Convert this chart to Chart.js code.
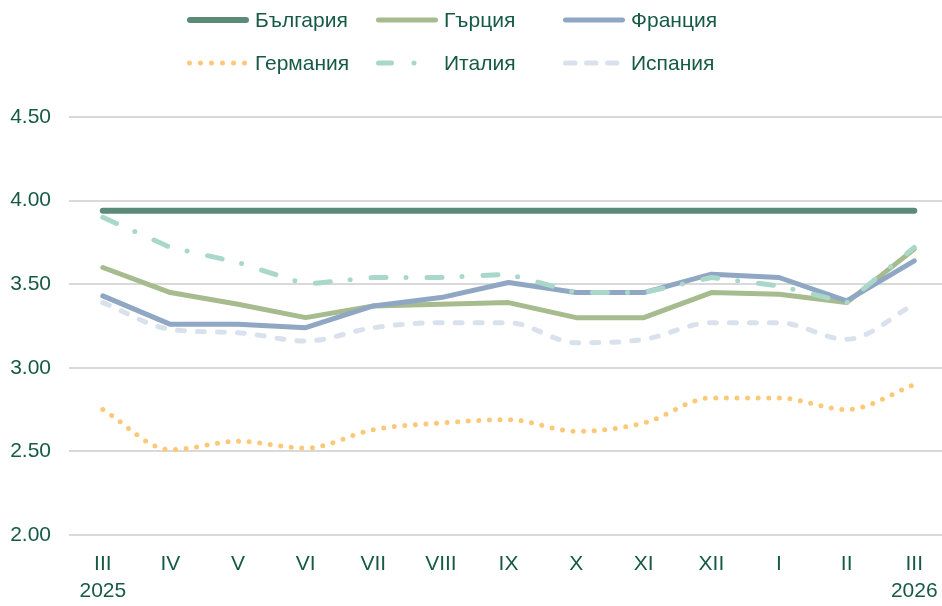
<!DOCTYPE html>
<html>
<head>
<meta charset="utf-8">
<script src="https://cdn.jsdelivr.net/npm/chart.js@4.4.1/dist/chart.umd.min.js"></script>
<style>
  html, body { margin: 0; padding: 0; background: #fff; overflow: hidden; }
  #wrap { width: 942px; height: 606px; }
</style>
</head>
<body>
<div id="wrap"><canvas id="chart"></canvas></div>
<script>
// months, Roman numerals; the year goes under the first and last one
const months = ['III', 'IV', 'V', 'VI', 'VII', 'VIII', 'IX', 'X', 'XI', 'XII', 'I', 'II', 'III'];
const years = ['2025', '', '', '', '', '', '', '', '', '', '', '', '2026'];
const yTicks = [2.00, 2.50, 3.00, 3.50, 4.00, 4.50];

const bulgaria = [3.94, 3.94, 3.94, 3.94, 3.94, 3.94, 3.94, 3.94, 3.94, 3.94, 3.94, 3.94, 3.94];
const greece   = [3.60, 3.45, 3.38, 3.30, 3.37, 3.38, 3.39, 3.30, 3.30, 3.45, 3.44, 3.39, 3.71];
const france   = [3.43, 3.26, 3.26, 3.24, 3.37, 3.42, 3.51, 3.45, 3.45, 3.56, 3.54, 3.40, 3.64];
const germany  = [2.75, 2.51, 2.56, 2.52, 2.63, 2.67, 2.69, 2.62, 2.67, 2.82, 2.82, 2.75, 2.90];
const italy    = [3.90, 3.72, 3.63, 3.50, 3.54, 3.54, 3.56, 3.45, 3.45, 3.54, 3.49, 3.39, 3.72];
const spain    = [3.39, 3.23, 3.21, 3.16, 3.24, 3.27, 3.27, 3.15, 3.17, 3.27, 3.27, 3.17, 3.38];

const TEXT = '#165a45';
const FONT = '"Liberation Sans", Arial, sans-serif';

const series = [
  {label: 'България', data: bulgaria, color: '#5b8a78', width: 6, dash: [], smooth: false},
  {label: 'Гърция',   data: greece,   color: '#a7bc8e', width: 5, dash: [], smooth: false},
  {label: 'Франция',  data: france,   color: '#8fa7c3', width: 5, dash: [], smooth: false},
  {label: 'Германия', data: germany,  color: '#fdc877', width: 5, dash: [0, 10.6], smooth: true, legendDash: [0, 11]},
  {label: 'Италия',   data: italy,    color: '#a9d8ca', width: 5, dash: [15, 20, 0, 21], smooth: false, legendDash: [13, 22.5, 0, 100]},
  {label: 'Испания',  data: spain,    color: '#d9e2ec', width: 5, dash: [7, 13], smooth: true, legendDash: [9.5, 11.5]}
];

// legend drawn in a 3 x 2 grid, like the original
const LEGEND_X = [187, 376, 563];
const LEGEND_Y = [20, 63];
const gridLegend = {
  id: 'gridLegend',
  afterDraw(chart) {
    const ctx = chart.ctx;
    series.forEach((s, i) => {
      const x = LEGEND_X[i % 3], y = LEGEND_Y[Math.floor(i / 3)];
      const cap = s.width / 2;
      ctx.save();
      ctx.strokeStyle = s.color;
      ctx.lineWidth = s.width;
      ctx.lineCap = 'round';
      ctx.setLineDash(s.legendDash || s.dash);
      ctx.beginPath();
      ctx.moveTo(x + cap, y);
      ctx.lineTo(x + 62 - cap, y);
      ctx.stroke();
      ctx.setLineDash([]);
      ctx.fillStyle = TEXT;
      ctx.font = '21px ' + FONT;
      ctx.textBaseline = 'middle';
      ctx.fillText(s.label, x + 68, y + 1);
      ctx.restore();
    });
  }
};

new Chart(document.getElementById('chart'), {
  type: 'line',
  data: {
    datasets: series.map((s, i) => ({
      label: s.label,
      data: s.data.map((v, k) => ({x: k, y: v})),
      borderColor: s.color,
      backgroundColor: s.color,
      borderWidth: s.width,
      borderDash: s.dash,
      borderCapStyle: 'round',
      borderJoinStyle: 'round',
      cubicInterpolationMode: s.smooth ? 'monotone' : 'default',
      tension: 0,
      pointRadius: 0,
      order: series.length - i
    }))
  },
  options: {
    responsive: true,
    maintainAspectRatio: false,
    animation: false,
    layout: {padding: {top: 117, left: 8, right: 0, bottom: 0}},
    plugins: {legend: {display: false}, tooltip: {enabled: false}},
    scales: {
      x: {
        type: 'linear',
        min: -0.5,
        max: 12.41,
        afterBuildTicks: axis => { axis.ticks = months.map((m, k) => ({value: k})); },
        afterFit: axis => {
          axis.height = 71;
          axis.paddingLeft = 0;
          axis.paddingRight = 0;
        },
        grid: {display: false, drawTicks: false},
        border: {display: false},
        ticks: {
          padding: 16,
          color: TEXT,
          font: {family: FONT, size: 21, lineHeight: 1.29},
          maxRotation: 0,
          autoSkip: false,
          callback: v => years[v] ? [months[v], years[v]] : months[v]
        }
      },
      y: {
        min: 2,
        max: 4.5,
        afterBuildTicks: axis => { axis.ticks = yTicks.map(v => ({value: v})); },
        afterFit: axis => { axis.width = 61; },
        grid: {color: '#d9d9d9', lineWidth: 2, drawTicks: false},
        border: {display: false},
        ticks: {
          padding: 18,
          color: TEXT,
          font: {family: FONT, size: 21},
          callback: v => v.toFixed(2)
        }
      }
    }
  },
  plugins: [gridLegend]
});
</script>
</body>
</html>
